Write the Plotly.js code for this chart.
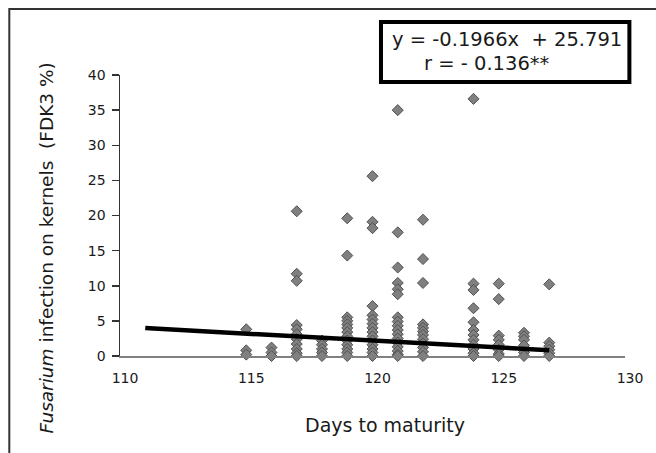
<!DOCTYPE html>
<html>
<head>
<meta charset="utf-8">
<script src="https://cdn.plot.ly/plotly-3.0.1.min.js"></script>
<style>html,body{margin:0;padding:0;background:#fff;}#chart{width:656px;height:453px;}</style>
</head>
<body>
<div id="chart"></div>
<script>
// Fusarium infection (FDK3 %) by days to maturity, one array per column
const d115 = [3.8, 0.8, 0.2];
const d116 = [1.2, 0.5, 0];
const d117 = [20.6, 11.7, 10.7, 4.4, 3.8, 3.1, 2.4, 1.7, 1.0, 0.4, 0];
const d118 = [2.2, 1.6, 1.0, 0.5, 0];
const d119 = [19.6, 14.3, 5.5, 5.0, 4.5, 4.0, 3.4, 2.8, 2.2, 1.6, 1.0, 0.5, 0];
const d120 = [25.6, 19.1, 18.2, 7.1, 5.8, 5.2, 4.6, 4.0, 3.4, 2.8, 2.2, 1.6, 1.0, 0.5, 0];
const d121 = [35.0, 17.6, 12.6, 10.4, 9.5, 8.8, 5.5, 4.9, 4.3, 3.7, 3.1, 2.5, 1.9, 1.3, 0.7, 0.2, 0];
const d122 = [19.4, 13.8, 10.4, 4.5, 4.0, 3.5, 3.0, 2.4, 1.8, 1.2, 0.6, 0];
const d124 = [36.6, 10.3, 9.4, 6.8, 4.8, 3.7, 3.0, 2.3, 1.6, 1.0, 0.4, 0];
const d125 = [10.3, 8.1, 2.9, 2.3, 1.6, 0.9, 0.3, 0];
const d126 = [3.3, 2.8, 2.3, 1.5, 0.5, 0];
const d127 = [10.2, 1.9, 1.4, 0.9, 0.4, 0];

const columnDays = [115, 116, 117, 118, 119, 120, 121, 122, 124, 125, 126, 127];
const columnValues = [d115, d116, d117, d118, d119, d120, d121, d122, d124, d125, d126, d127];

// Linear trend reported on the chart
const slope = -0.1966;
const intercept = 25.791;
const trendDays = [111, 127];

const xTicks = [110, 115, 120, 125, 130];
const yTicks = [0, 5, 10, 15, 20, 25, 30, 35, 40];

const eqLine1 = 'y = -0.1966x  + 25.791';
const eqLine2 = 'r = - 0.136**';
const xTitle = 'Days to maturity';
const yTitle = '<i>Fusarium</i> infection on kernels  (FDK3 %)';

const px = [], py = [];
columnDays.forEach((d, i) => columnValues[i].forEach(v => { px.push(d); py.push(v); }));
const ty = trendDays.map(x => slope * x + intercept);

const FONT = 'DejaVu Sans, Liberation Sans, Arial, sans-serif';
const TXT = '#1a1a1a';

const traces = [
  {
    type: 'scatter', mode: 'markers', x: px, y: py, hoverinfo: 'x+y',
    marker: {symbol: 'diamond', size: 8.5, color: '#808080', line: {color: '#505050', width: 1}},
    showlegend: false, cliponaxis: false
  },
  {
    type: 'scatter', mode: 'lines', x: trendDays, y: ty,
    line: {color: '#000000', width: 4.5}, showlegend: false
  }
];

const layout = {
  width: 656, height: 453,
  margin: {l: 120, r: 31, t: 75, b: 97, pad: 0},
  paper_bgcolor: '#ffffff', plot_bgcolor: '#ffffff',
  font: {family: FONT, color: TXT, size: 14},
  showlegend: false,
  xaxis: {
    range: [110, 130], tickvals: xTicks, ticktext: xTicks.map(String),
    showgrid: false, zeroline: false, showline: true, linecolor: '#808080', linewidth: 1.5,
    ticks: 'inside', ticklen: 6, tickcolor: '#808080', tickwidth: 1.5,
    ticklabelstandoff: 9, ticklabelshift: 5,
    tickfont: {family: FONT, size: 14, color: TXT}
  },
  yaxis: {
    range: [0, 40], tickvals: yTicks, ticktext: yTicks.map(String),
    showgrid: false, zeroline: false, showline: true, linecolor: '#333333', linewidth: 1.5,
    ticks: 'outside', ticklen: 7, tickcolor: '#333333', tickwidth: 1.5,
    ticklabelstandoff: 3,
    tickfont: {family: FONT, size: 14, color: TXT}
  },
  shapes: [
    {type: 'rect', xref: 'paper', yref: 'paper', x0: -0.2192, x1: 1.2, y0: -0.5, y1: 1.2349,
     line: {color: '#333333', width: 2}, fillcolor: 'rgba(0,0,0,0)', layer: 'below'},
    {type: 'rect', xref: 'paper', yref: 'paper', x0: 0.5168, x1: 1.0087, y0: 0.975, y1: 1.1886,
     line: {color: '#000000', width: 4}, fillcolor: '#ffffff', layer: 'above'}
  ],
  annotations: [
    {xref: 'paper', yref: 'paper', x: 0.767, y: 1.1246, xanchor: 'center', yanchor: 'middle',
     text: eqLine1, showarrow: false, font: {family: FONT, size: 19.5, color: TXT}},
    {xref: 'paper', yref: 'paper', x: 0.7272, y: 1.0427, xanchor: 'center', yanchor: 'middle',
     text: eqLine2, showarrow: false, font: {family: FONT, size: 19.5, color: TXT}},
    {xref: 'paper', yref: 'paper', x: 0.5247, y: -0.246, xanchor: 'center', yanchor: 'middle',
     text: xTitle, showarrow: false, font: {family: FONT, size: 19, color: TXT}},
    {xref: 'paper', yref: 'paper', x: -0.1458, y: 0.384, xanchor: 'center', yanchor: 'middle',
     textangle: -90, text: yTitle, showarrow: false,
     font: {family: FONT, size: 18.5, color: TXT}}
  ]
};

Plotly.newPlot('chart', traces, layout, {displayModeBar: false, staticPlot: true});
</script>
</body>
</html>
